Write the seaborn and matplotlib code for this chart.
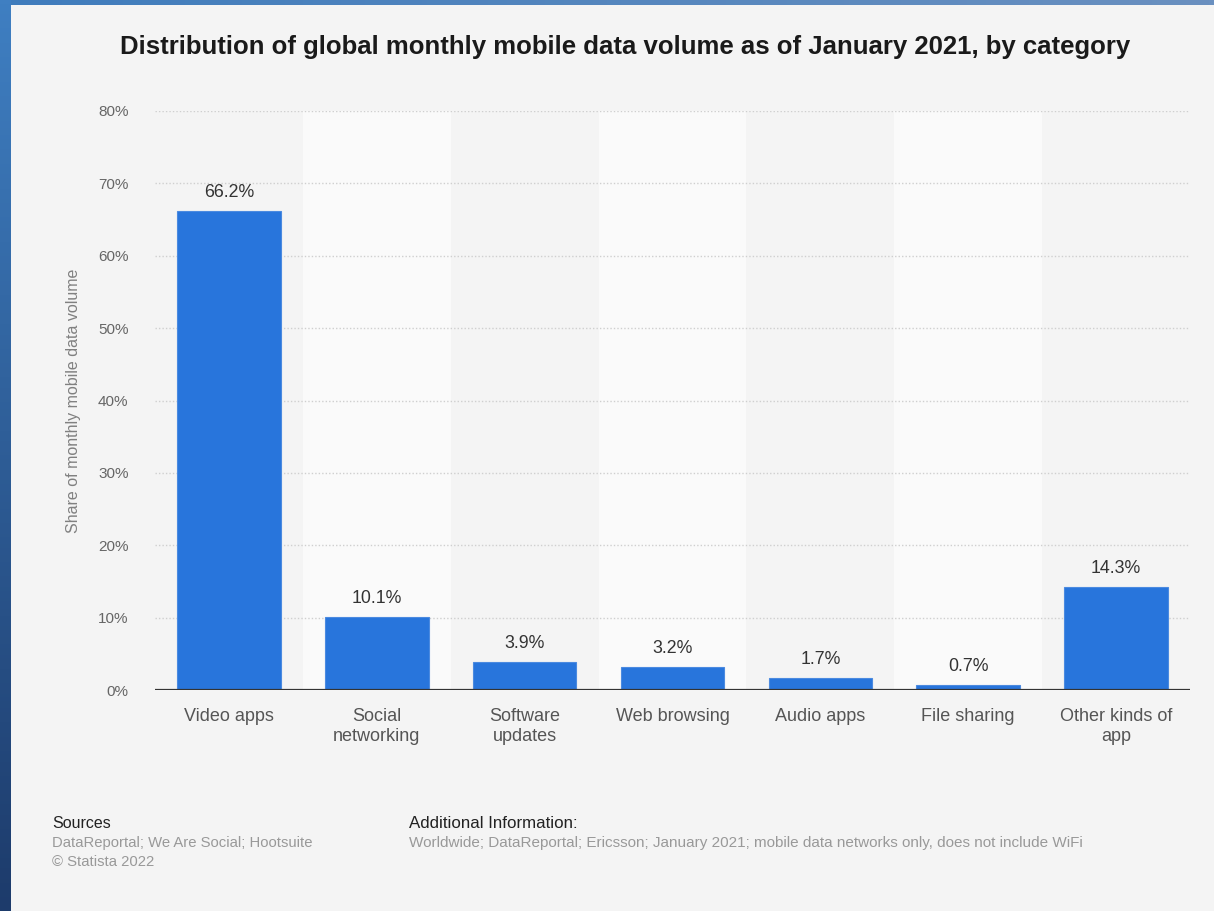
import numpy as np
import pandas as pd
import matplotlib
matplotlib.use("Agg")
import matplotlib.pyplot as plt
import seaborn as sns

categories = ["Video apps", "Social\nnetworking", "Software\nupdates", "Web browsing",
              "Audio apps", "File sharing", "Other kinds of\napp"]
shares = [66.2, 10.1, 3.9, 3.2, 1.7, 0.7, 14.3]
y_ticks = [0, 10, 20, 30, 40, 50, 60, 70, 80]

title = "Distribution of global monthly mobile data volume as of January 2021, by category"
y_label = "Share of monthly mobile data volume"
sources_head = "Sources"
sources_text = "DataReportal; We Are Social; Hootsuite\n\u00a9 Statista 2022"
info_head = "Additional Information:"
info_text = ("Worldwide; DataReportal; Ericsson; January 2021; mobile data networks only, "
             "does not include WiFi")

sns.set_theme(style="white")
plt.rcParams["font.family"] = ["Liberation Sans", "DejaVu Sans"]

W, H = 1214, 911
BG = "#f4f4f4"
fig = plt.figure(figsize=(W / 100, H / 100), dpi=100, facecolor=BG)

# window frame: blue gradient strips along the top and left edges
frame = fig.add_axes([0, 0, 1, 1], zorder=-10)
frame.set_axis_off()
top_grad = np.linspace(0, 1, 256).reshape(1, -1)
frame.imshow(top_grad, extent=[0, W, 5, 0], aspect="auto",
             cmap=matplotlib.colors.LinearSegmentedColormap.from_list("t", ["#3f7cbc", "#6a90c0"]))
left_grad = np.linspace(0, 1, 256).reshape(-1, 1)
frame.imshow(left_grad, extent=[0, 11, H, 0], aspect="auto",
             cmap=matplotlib.colors.LinearSegmentedColormap.from_list("l", ["#3f7fc2", "#1d3b6b"]))
frame.set_xlim(0, W)
frame.set_ylim(H, 0)

left, right, top, bottom = 155, 1190, 111, 690
ax = fig.add_axes([left / W, 1 - bottom / H, (right - left) / W, (bottom - top) / H])
ax.set_facecolor(BG)

df = pd.DataFrame({"category": categories, "share": shares})

# alternating column shading
for i in range(len(categories)):
    if i % 2 == 1:
        ax.axvspan(i - 0.5, i + 0.5, color="#fafafa", zorder=0, lw=0)

for t in y_ticks[1:]:
    ax.axhline(t, color="#cfcfcf", lw=1, ls=(0, (1, 1.5)), zorder=1)

sns.barplot(data=df, x="category", y="share", color="#2875dc", width=0.7,
            saturation=1, edgecolor="#4b8ae0", linewidth=0.8, ax=ax, zorder=2)

ax.axhline(0, color="#333333", lw=1.6, zorder=3)

for i, v in enumerate(shares):
    ax.annotate(f"{v}%", (i, v), xytext=(0, 7), textcoords="offset points",
                ha="center", va="bottom", fontsize=12.8, color="#333333")

ax.set_xlim(-0.5, len(categories) - 0.5)
ax.set_ylim(0, 80)
ax.set_yticks(y_ticks)
ax.set_yticklabels([f"{t}%" for t in y_ticks])
ax.tick_params(axis="y", length=0, pad=19, labelsize=11, labelcolor="#666666")
ax.tick_params(axis="x", length=0, pad=13, labelsize=13, labelcolor="#555555")
for lab in ax.get_xticklabels():
    lab.set_linespacing(1.2)
ax.set_xlabel("")
ax.set_ylabel(y_label, fontsize=11.5, color="#808080", labelpad=12)
for s in ax.spines.values():
    s.set_visible(False)

fig.text(625 / W, 1 - 47 / H, title, ha="center", va="center",
         fontsize=18.5, fontweight="bold", color="#1a1a1a")

fig.text(52 / W, 1 - 823 / H, sources_head, ha="left", va="center", fontsize=11.5, color="#222222")
fig.text(52 / W, 1 - 836 / H, sources_text, ha="left", va="top", fontsize=10.7,
         color="#999999", linespacing=1.45)
fig.text(409 / W, 1 - 823 / H, info_head, ha="left", va="center", fontsize=12.2, color="#222222")
fig.text(409 / W, 1 - 836 / H, info_text, ha="left", va="top", fontsize=11, color="#999999")

fig.savefig("out.png", dpi=100, facecolor=BG)
